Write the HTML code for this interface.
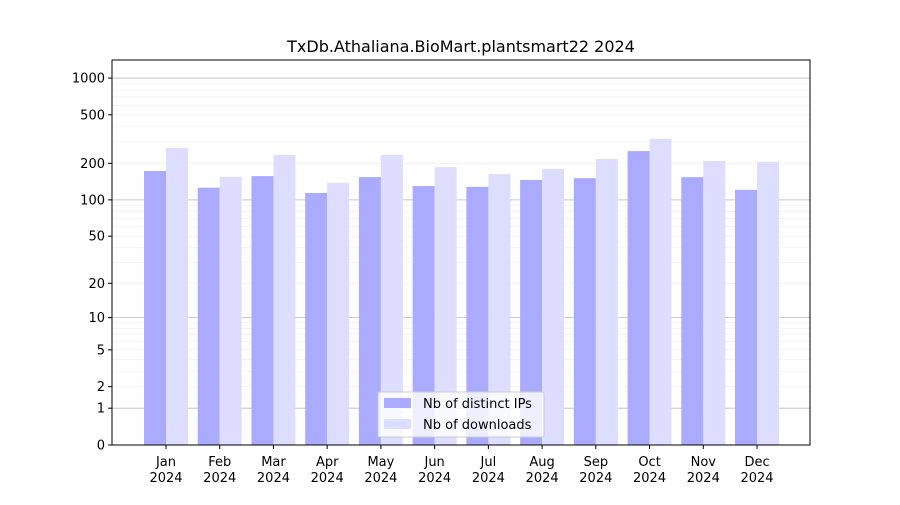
<!DOCTYPE html>
<html><head><meta charset="utf-8"><style>
body{margin:0;background:#fff;font-family:"Liberation Sans","DejaVu Sans",sans-serif;}
svg text{font-family:"DejaVu Sans","Liberation Sans",sans-serif;}
</style></head><body>
<svg id="chart" width="900" height="500" xmlns="http://www.w3.org/2000/svg">
<rect width="900" height="500" fill="#fff"/>
<text x="461" y="52" font-size="16" text-anchor="middle">TxDb.Athaliana.BioMart.plantsmart22 2024</text>
<g id="grid"></g><g id="bars"></g><g id="axes"></g>
<rect x="112" y="60" width="698" height="385" fill="none" stroke="#000" stroke-width="1"/>
<g>
<rect x="378" y="392" width="166" height="45" fill="#fff" fill-opacity="0.8" stroke="#ccc" rx="2"/>
<rect x="384" y="398" width="27" height="10" fill="#aaaaff"/>
<text x="423" y="408" font-size="13">Nb of distinct IPs</text>
<rect x="384" y="419" width="27" height="10" fill="#ddddff"/>
<text x="423" y="429" font-size="13">Nb of downloads</text>
</g>
</svg>
<script>
const months=["Jan","Feb","Mar","Apr","May","Jun","Jul","Aug","Sep","Oct","Nov","Dec"];
const ips=[173,126,157,114,154,130,128,146,151,252,154,121];
const downloads=[267,155,234,138,234,186,163,180,217,317,209,205];
const yTicks=[0,1,2,5,10,20,50,100,200,500,1000];
const NS="http://www.w3.org/2000/svg";
const y0=445,pxPerDec=122.3,xL=112,xR=810;
function y(v){return y0-Math.log10(1+v)*pxPerDec;}
function xc(i){return 166+i*53.73;}
function mk(t,a,p){const e=document.createElementNS(NS,t);for(const k in a)e.setAttribute(k,a[k]);p.appendChild(e);return e;}
const grid=document.getElementById('grid'),bars=document.getElementById('bars'),axes=document.getElementById('axes');
// minor grid
for(let d=0;d<4;d++){for(let m=1;m<10;m++){const v=m*Math.pow(10,d);if(y(v)<60)continue;
const l=mk('line',{x1:xL,x2:xR,y1:y(v),y2:y(v),stroke:m===1?'#bbb':'#eee','stroke-width':m===1?0.8:0.6},grid);

}}
yTicks.forEach(v=>{const yy=y(v);
mk('line',{x1:xL-4,x2:xL,y1:yy,y2:yy,stroke:'#000'},axes);
const t=mk('text',{x:xL-7,y:yy+4.5,'font-size':13,'text-anchor':'end'},axes);t.textContent=v;

});
months.forEach((m,i)=>{const c=xc(i);
const b1=mk('rect',{x:c-22,y:y(ips[i]),width:22,height:y0-y(ips[i]),fill:'#aaaaff'},bars);


const b2=mk('rect',{x:c,y:y(downloads[i]),width:22,height:y0-y(downloads[i]),fill:'#ddddff'},bars);


mk('line',{x1:c,x2:c,y1:y0,y2:y0+4,stroke:'#000'},axes);
const t=mk('text',{x:c,y:466,'font-size':13,'text-anchor':'middle'},axes);t.textContent=m;


const t2=mk('text',{x:c,y:482,'font-size':13,'text-anchor':'middle'},axes);t2.textContent='2024';

});
</script>
</body></html>
